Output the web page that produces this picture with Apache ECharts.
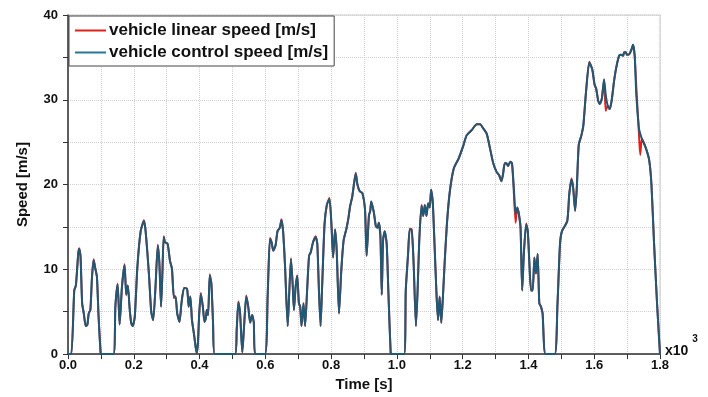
<!DOCTYPE html>
<html>
<head>
    <meta charset="utf-8"/>
    <title>Speed</title>
    <script src="https://cdn.jsdelivr.net/npm/echarts@6.0.0/dist/echarts.min.js"></script>
</head>
<body style="margin:0">
<div id="main" style="width:708px;height:397px;"></div>
<script type="text/javascript">
    // time in x10^3 s
    var times = [
        0.000, 0.010, 0.019, 0.024, 0.031, 0.034, 0.038, 0.043, 0.048, 0.054, 0.059, 0.063, 0.068, 0.073, 0.078, 0.083, 0.088, 0.093, 0.099, 0.101,
        0.138, 0.144, 0.151, 0.157, 0.164, 0.172, 0.177, 0.182, 0.187, 0.192, 0.197, 0.203, 0.211, 0.221, 0.231, 0.236, 0.246, 0.253, 0.259, 0.266,
        0.273, 0.278, 0.283, 0.287, 0.291, 0.295, 0.303, 0.310, 0.316, 0.322, 0.327, 0.332, 0.339, 0.345, 0.353, 0.362, 0.367, 0.372, 0.377, 0.384,
        0.391, 0.395, 0.399, 0.404, 0.410, 0.415, 0.419, 0.422, 0.426, 0.431, 0.436, 0.441, 0.446, 0.508, 0.513, 0.518, 0.523, 0.530, 0.536, 0.542,
        0.548, 0.554, 0.560, 0.565, 0.569, 0.599, 0.607, 0.614, 0.619, 0.624, 0.631, 0.637, 0.644, 0.649, 0.654, 0.660, 0.668, 0.673, 0.678, 0.683,
        0.687, 0.692, 0.697, 0.702, 0.706, 0.710, 0.716, 0.721, 0.727, 0.733, 0.738, 0.745, 0.753, 0.758, 0.763, 0.768, 0.773, 0.780, 0.787, 0.795,
        0.801, 0.806, 0.812, 0.817, 0.824, 0.831, 0.838, 0.846, 0.852, 0.858, 0.864, 0.870, 0.875, 0.880, 0.887, 0.895, 0.903, 0.908, 0.915, 0.919,
        0.922, 0.930, 0.936, 0.941, 0.945, 0.950, 0.954, 0.958, 0.963, 0.969, 0.974, 0.981, 0.984, 1.022, 1.027, 1.034, 1.039, 1.045, 1.051, 1.058,
        1.063, 1.068, 1.075, 1.080, 1.085, 1.090, 1.095, 1.100, 1.104, 1.109, 1.114, 1.120, 1.125, 1.130, 1.135, 1.140, 1.145, 1.152, 1.161, 1.173,
        1.188, 1.202, 1.212, 1.227, 1.243, 1.253, 1.263, 1.273, 1.283, 1.293, 1.303, 1.311, 1.318, 1.323, 1.328, 1.333, 1.338, 1.345, 1.350, 1.355,
        1.361, 1.366, 1.371, 1.376, 1.381, 1.386, 1.393, 1.398, 1.403, 1.408, 1.413, 1.418, 1.423, 1.428, 1.433, 1.438, 1.443, 1.452, 1.480, 1.488,
        1.496, 1.502, 1.518, 1.524, 1.531, 1.536, 1.542, 1.547, 1.553, 1.561, 1.567, 1.575, 1.585, 1.594, 1.601, 1.606, 1.612, 1.617, 1.623, 1.630,
        1.635, 1.641, 1.647, 1.653, 1.661, 1.668, 1.676, 1.682, 1.688, 1.691, 1.696, 1.700, 1.707, 1.715, 1.718, 1.723, 1.728, 1.736, 1.740, 1.745,
        1.757, 1.767, 1.774, 1.782, 1.791, 1.800
    ];

    var controlSpeed = [
        0, 0, 7.5, 8.1, 11.8, 12.4, 11.6, 6.0, 4.8, 3.3, 3.5, 4.8, 5.2, 9.1, 11.1, 10.1, 9.1, 4.4, 0.2, 0,
        0, 5.6, 8.2, 3.5, 7.9, 10.5, 7.0, 8.1, 5.6, 3.7, 3.3, 4.4, 10.3, 14.5, 15.7, 14.5, 9.5, 5.0, 4.0, 7.9,
        12.8, 10.6, 5.6, 9.5, 13.8, 13.2, 13.0, 11.0, 10.1, 6.8, 6.8, 4.8, 3.8, 6.0, 7.8, 7.7, 5.6, 6.8, 4.0, 2.1,
        0.1, 1.3, 4.8, 7.1, 5.6, 3.8, 4.2, 5.2, 4.6, 9.3, 8.3, 3.7, 0, 0, 2.9, 6.1, 5.0, 0.2, 3.7, 6.8,
        5.6, 3.7, 4.6, 3.7, 0, 0, 6.8, 13.6, 13.2, 12.2, 12.8, 14.5, 14.9, 15.8, 14.5, 10.3, 3.3, 7.5, 11.2, 8.3,
        5.2, 7.9, 9.2, 6.0, 5.6, 3.3, 6.0, 3.3, 7.5, 11.6, 12.0, 13.2, 13.8, 13.0, 7.5, 3.3, 8.3, 15.3, 17.6, 18.3,
        15.3, 11.4, 14.7, 12.2, 4.8, 9.9, 13.4, 14.7, 15.9, 17.5, 18.5, 20.2, 21.3, 20.0, 19.2, 19.0, 17.1, 11.6, 16.3, 16.9,
        18.0, 16.7, 15.1, 14.9, 15.5, 13.8, 7.0, 13.4, 14.5, 13.0, 7.5, 0.2, 0, 0, 7.5, 11.8, 14.7, 14.7, 10.6, 3.3,
        7.5, 13.4, 17.5, 16.3, 17.6, 16.3, 17.8, 17.3, 19.4, 18.0, 13.4, 7.5, 4.0, 6.8, 3.7, 6.8, 10.6, 15.3, 19.2, 21.9,
        23.1, 24.6, 25.8, 26.4, 27.1, 27.1, 26.6, 26.0, 24.3, 22.5, 21.5, 21.1, 20.4, 21.3, 22.5, 22.5, 22.2, 22.7, 22.5, 20.0,
        16.6, 17.3, 16.5, 14.9, 7.5, 11.8, 15.3, 14.5, 10.6, 7.5, 7.5, 11.4, 9.5, 11.8, 6.0, 5.6, 4.8, 0, 0, 5.6,
        13.0, 14.5, 15.7, 18.8, 20.6, 19.6, 16.9, 19.6, 24.7, 25.8, 27.0, 30.9, 34.4, 33.6, 31.8, 31.3, 29.9, 29.5, 30.1, 32.4,
        30.6, 29.3, 28.9, 29.9, 32.4, 34.0, 35.2, 35.3, 35.2, 35.6, 35.6, 35.3, 35.4, 36.1, 36.5, 35.2, 30.5, 26.6, 26.0, 25.4,
        24.3, 22.9, 20.0, 13.0, 6.0, 0
    ];

    var linearSpeed = [
        0, 0, 7.5, 8.1, 11.8, 12.5, 11.6, 6.0, 4.8, 3.3, 3.5, 4.8, 5.2, 9.1, 11.2, 10.1, 9.1, 4.4, 0.2, 0,
        0, 5.6, 8.3, 3.5, 7.9, 10.6, 7.0, 8.1, 5.6, 3.7, 3.3, 4.4, 10.3, 14.5, 15.8, 14.5, 9.5, 5.0, 4.0, 7.9,
        12.9, 10.6, 5.6, 9.5, 13.9, 13.2, 13.0, 11.0, 10.1, 6.6, 6.8, 4.8, 3.8, 6.0, 7.8, 7.7, 5.6, 6.8, 4.0, 2.1,
        0.1, 1.3, 4.8, 7.2, 5.6, 3.8, 4.2, 5.2, 4.6, 9.4, 8.3, 3.7, 0, 0, 2.9, 6.2, 5.0, 0.2, 3.7, 6.9,
        5.6, 3.7, 4.6, 3.7, 0, 0, 6.8, 13.7, 13.2, 12.2, 12.8, 14.5, 14.9, 15.9, 14.5, 10.3, 3.3, 7.5, 11.3, 8.3,
        5.2, 7.9, 9.3, 6.0, 5.6, 3.3, 6.0, 3.3, 7.5, 11.6, 12.0, 13.2, 13.9, 13.0, 7.5, 3.3, 8.3, 15.3, 17.6, 18.4,
        15.3, 11.4, 14.7, 12.2, 4.8, 9.9, 13.4, 14.7, 15.9, 17.5, 18.5, 20.2, 21.4, 20.0, 19.2, 19.0, 17.1, 11.6, 16.4, 16.9,
        18.0, 16.7, 15.1, 14.9, 15.5, 13.8, 7.0, 13.5, 14.5, 13.0, 7.5, 0.2, 0, 0, 7.5, 11.8, 14.8, 14.7, 10.6, 3.3,
        7.5, 13.4, 17.6, 16.3, 17.6, 16.3, 17.8, 17.3, 19.4, 18.0, 13.4, 7.5, 4.0, 6.8, 3.7, 6.8, 10.6, 15.3, 19.2, 21.9,
        23.1, 24.6, 25.8, 26.4, 27.1, 27.1, 26.6, 26.0, 24.3, 22.5, 21.5, 21.1, 20.4, 21.3, 22.5, 22.5, 22.2, 22.7, 22.5, 19.5,
        15.5, 17.3, 16.5, 14.9, 7.5, 11.8, 15.4, 14.5, 10.6, 7.5, 7.5, 11.4, 9.5, 11.8, 6.0, 5.6, 4.8, 0, 0, 5.6,
        13.0, 14.5, 15.7, 18.8, 20.7, 19.6, 16.9, 19.6, 24.7, 25.8, 27.0, 30.9, 34.5, 33.6, 31.8, 31.3, 29.9, 29.5, 30.1, 32.4,
        28.7, 29.3, 28.9, 29.9, 32.4, 34.0, 35.2, 35.3, 35.2, 35.6, 35.6, 35.3, 35.4, 36.1, 36.5, 35.2, 31.5, 26.0, 23.5, 25.4,
        24.3, 22.9, 20.0, 13.0, 6.0, 0
    ];

    var seriesNames = ['vehicle linear speed [m/s]', 'vehicle control speed [m/s]'];

    function toPairs(values) {
        var out = [];
        for (var i = 0; i < times.length; i++) {
            out.push([times[i], values[i]]);
        }
        return out;
    }

    var font = 'Liberation Sans, Arial, sans-serif';
    var myChart = echarts.init(document.getElementById('main'));

    var option = {
        animation: false,
        textStyle: { fontFamily: font },
        grid: {
            left: 68, right: 48, top: 15, bottom: 39,
            show: true, borderColor: '#c8c8c8', borderWidth: 1
        },
        legend: {
            data: seriesNames,
            orient: 'vertical',
            left: 69, top: 16,
            icon: 'rect',
            backgroundColor: '#fff',
            borderColor: '#444',
            borderWidth: 1,
            borderRadius: 0,
            padding: [6, 6, 5, 6],
            itemWidth: 31,
            itemHeight: 2,
            itemGap: 5,
            textStyle: { fontSize: 17, fontWeight: 'bold', color: '#111', fontFamily: font, padding: [0, 0, 0, -2] }
        },
        xAxis: {
            type: 'value',
            min: 0, max: 1.8, interval: 0.1,
            name: 'Time [s]',
            nameLocation: 'middle',
            nameGap: 20,
            nameTextStyle: { fontSize: 15, fontWeight: 'bold', color: '#111' },
            axisLine: { onZero: false, lineStyle: { color: '#333', width: 1.5 } },
            axisTick: { length: 5, lineStyle: { color: '#333' } },
            axisLabel: {
                margin: 5, fontSize: 13, fontWeight: 'bold', color: '#111',
                formatter: function (v) {
                    return Math.round(v * 10) % 2 === 0 ? v.toFixed(1) : '';
                }
            },
            splitLine: { show: true, lineStyle: { color: '#d0d0d0', type: 'dotted' } }
        },
        yAxis: {
            type: 'value',
            min: 0, max: 40, interval: 5,
            name: 'Speed [m/s]',
            nameLocation: 'middle',
            nameGap: 38,
            nameTextStyle: { fontSize: 15, fontWeight: 'bold', color: '#111' },
            axisLine: { show: true, lineStyle: { color: '#333', width: 1.5 } },
            axisTick: { show: true, length: 5, lineStyle: { color: '#333' } },
            axisLabel: {
                margin: 10, fontSize: 13, fontWeight: 'bold', color: '#111',
                formatter: function (v) {
                    return v % 10 === 0 ? String(v) : '';
                }
            },
            splitLine: { show: true, lineStyle: { color: '#d0d0d0', type: 'dotted' } }
        },
        graphic: [{
            type: 'text',
            left: 665, top: 334,
            style: {
                text: '{a|x10}{b|3}',
                rich: {
                    a: { fontSize: 14, fontWeight: 'bold', fill: '#111', fontFamily: font, verticalAlign: 'bottom', lineHeight: 24 },
                    b: { fontSize: 10, fontWeight: 'bold', fill: '#111', fontFamily: font, verticalAlign: 'top', padding: [0, 0, 0, 4] }
                }
            }
        }],
        series: [
            {
                name: seriesNames[0],
                type: 'line',
                symbol: 'none',
                smooth: 0.2,
                data: toPairs(linearSpeed),
                lineStyle: { color: '#e0211b', width: 2 },
                itemStyle: { color: '#e0211b' },
                z: 2
            },
            {
                name: seriesNames[1],
                type: 'line',
                symbol: 'none',
                smooth: 0.2,
                data: toPairs(controlSpeed),
                lineStyle: { color: '#1c5a78', width: 2 },
                itemStyle: { color: '#2a7596' },
                z: 3
            }
        ]
    };

    myChart.setOption(option);
</script>
</body>
</html>
